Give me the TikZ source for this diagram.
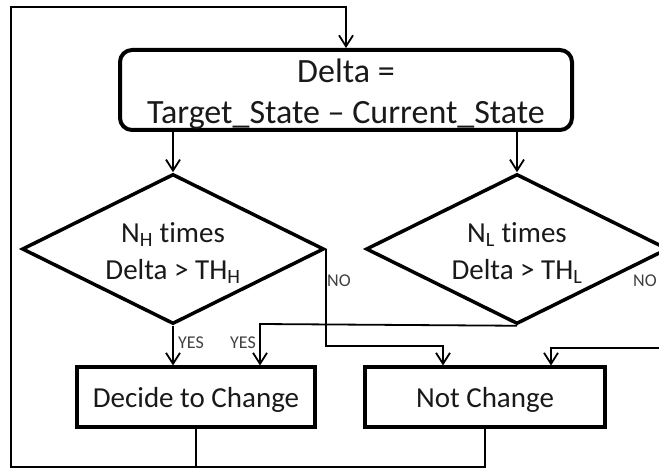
\documentclass[tikz,border=0pt]{standalone}
\usepackage{fontspec}
\setmainfont{Carlito}[Ligatures=CommonOff]
\usetikzlibrary{shapes.geometric,arrows.meta}

% Textzeile etwas tiefer setzen, ohne die Boxgroesse zu aendern
\newcommand\zeile[1]{\raisebox{-4pt}[\height][\depth]{#1}}

\begin{document}
\begin{tikzpicture}[x=1pt,y=-1pt,
  kasten/.style={draw, line width=4pt, minimum height=59pt, inner sep=0pt,
    text height=24pt, text depth=4pt,
    font=\fontsize{29}{35}\selectfont, text=black!90},
  raute/.style={draw, diamond, shape aspect=2, line width=3.5pt, minimum width=302pt,
    minimum height=150pt, inner sep=0pt, align=center,
    font=\fontsize{29}{37}\selectfont, text=black!90},
  linie/.style={line width=1.8pt},
  pfeil/.style={linie, -{Straight Barb[length=11pt,width=14pt,line width=1.8pt]}},
  marke/.style={font=\fontsize{18}{18}\selectfont, text=black!75, inner sep=0pt}]

% Bildrand (rechte Raute ist abgeschnitten)
\useasboundingbox (0,0) rectangle (659,470);
\clip (0,0) rectangle (659,470);

% Koordinaten der Knoten
\def \dX {346}
\def \dY {90}
\def \hX {173}
\def \lX {517}
\def \rY {249}
\def \kY {397}

% Hilfspunkte fuer die Leitungen
\coordinate (lu) at (11,467);
\coordinate (lo) at (11,7);
\coordinate (neinHp) at (443,346);
\coordinate (neinLp) at (551,348);
\coordinate (jaLp) at (260,324);

% Knoten zeichnen
\node[draw, rounded corners=12pt, line width=4pt, minimum width=452pt, minimum height=80pt,
  inner sep=0pt, align=center, font=\fontsize{34}{41}\selectfont, text=black!90]
  at (\dX,\dY) (D) {\zeile{Delta =}\\\zeile{Target\_State \textendash{} Current\_State}};
\node[raute] at (\hX,\rY) (NH) {\zeile{N\textsubscript{H} times}\\\zeile{Delta > TH\textsubscript{H}}};
\node[raute] at (\lX,\rY) (NL) {\zeile{N\textsubscript{L} times}\\\zeile{Delta > TH\textsubscript{L}}};
\node[kasten, minimum width=238pt] at (196,\kY) (DC) {Decide to Change};
\node[kasten, minimum width=240pt] at (485,\kY) (NC) {Not Change};

% Beschriftungen
\node[marke, anchor=west] at (178,343) (jaH) {YES};
\node[marke, anchor=east] at (256,343) (jaL) {YES};
\node[marke, anchor=west] at (327,281) (neinH) {NO};
\node[marke, anchor=west] at (633,281) (neinL) {NO};

% Verbindungen
\draw[pfeil] (D.south -| NH.north) -- (NH.north);
\draw[pfeil] (D.south -| NL.north) -- (NL.north);
\draw[pfeil] (NH.south) -- (NH.south |- DC.north);
\draw[pfeil] (NL.south) -- (jaLp) -- (jaLp |- DC.north);
\draw[pfeil] (NH.east) |- (neinHp) -- (neinHp |- NC.north);
\draw[pfeil] (NL.east) |- (neinLp) -- (neinLp |- NC.north);

% Rueckfuehrung
\draw[linie] (DC.south) -- (DC.south |- lu);
\draw[pfeil] (NC.south) |- (lu) -- (lo) -| (D.north);

\end{tikzpicture}
\end{document}
